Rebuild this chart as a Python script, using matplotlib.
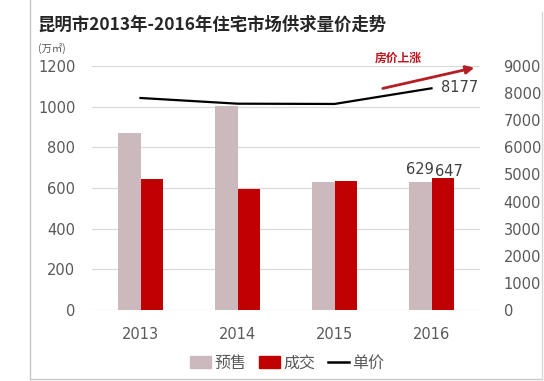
import matplotlib.pyplot as plt
from matplotlib.lines import Line2D
from matplotlib.patches import Patch

plt.rcParams['font.family'] = ['Noto Sans CJK SC', 'DejaVu Sans']
num_font = ['DejaVu Sans', 'Noto Sans CJK SC']

years = ["2013", "2014", "2015", "2016"]
presale = [872, 1003, 628, 629]
deals = [644, 597, 632, 647]
price = [7820, 7610, 7600, 8177]

c_pre = "#CBB9BD"
c_deal = "#C00000"
c_txt = "#595959"

fig = plt.figure(figsize=(5.44, 3.81), dpi=100)
ax = fig.add_axes([92/544, 71/381, 388/544, 244/381])
ax2 = ax.twinx()

x = list(range(len(years)))
w = 0.235
ax.bar([i - w/2 for i in x], presale, w, color=c_pre, zorder=2)
ax.bar([i + w/2 for i in x], deals, w, color=c_deal, zorder=2)
ax.set_xlim(-0.5, 3.5)
ax.set_ylim(0, 1200)
ax.set_yticks(range(0, 1201, 200))
ax.yaxis.grid(True, color="#DADADA", lw=0.9, zorder=0)
ax.set_axisbelow(True)
ax.set_xticks(x)
ax.set_xticklabels(years)
ax.tick_params(length=0, labelsize=10.5, labelcolor=c_txt, pad=12)
ax.tick_params(axis="x", pad=12)

ax2.plot(x, price, color="black", lw=1.6, zorder=3)
ax2.set_ylim(0, 9000)
ax2.set_yticks(range(0, 9001, 1000))
ax2.tick_params(length=0, labelsize=10.5, labelcolor=c_txt, pad=17)

for a in (ax, ax2):
    for s in a.spines.values():
        s.set_visible(False)
    for t in a.get_xticklabels() + a.get_yticklabels():
        t.set_family(num_font)

ax.text(3 - w/2, presale[3] + 25, str(presale[3]), ha="center", va="bottom",
        fontsize=10.5, color="#404040", family=num_font)
ax.text(3 + w/2 + 0.06, deals[3] - 5, str(deals[3]), ha="center", va="bottom",
        fontsize=10.5, color="#404040", family=num_font)
ax2.text(3.1, price[3] + 20, str(price[3]), ha="left", va="center",
         fontsize=10.5, color="#404040", family=num_font)

# rising price arrow
ax2.annotate("", xy=(3.47, 8960), xytext=(2.47, 8150),
             arrowprops=dict(arrowstyle="-|>", color="#B41E24", lw=2,
                             mutation_scale=12), annotation_clip=False)
fig.text(398/544, 1 - 58/381, "房价上涨", color="#C0141C", fontsize=8.5,
         fontweight="bold", ha="center", va="center")

fig.text(37/544, 1 - 25/381, "昆明市2013年-2016年住宅市场供求量价走势",
         fontsize=12.5, fontweight="bold", color="#262626", va="center")
fig.text(38/544, 1 - 48/381, "(万㎡)", fontsize=7.5, color=c_txt, va="center")

handles = [Patch(color=c_pre), Patch(color=c_deal),
           Line2D([], [], color="black", lw=1.8)]
fig.legend(handles, ["预售", "成交", "单价"], loc="center",
           bbox_to_anchor=(287/544, 1 - 363/381), ncol=3, frameon=False,
           fontsize=11.5, handlelength=1.3, handletextpad=0.2, columnspacing=0.8,
           labelcolor=c_txt)

# frame around the picture
fig.add_artist(Line2D([30/544, 30/544], [2/381, 1], color="#C8C8C8", lw=1))
fig.add_artist(Line2D([30/544, 542/544], [2/381, 2/381], color="#C8C8C8", lw=1))
fig.add_artist(Line2D([542/544, 542/544], [2/381, 1 - 12/381], color="#D8D8D8", lw=1))

fig.savefig("out.png", dpi=100)
